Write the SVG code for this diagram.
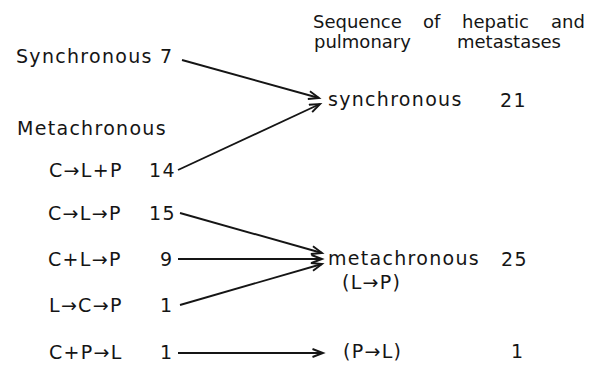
<svg xmlns="http://www.w3.org/2000/svg" width="590" height="366" viewBox="0 0 590 366">
<style>
text{font-family:"DejaVu Sans",Verdana,sans-serif;font-size:19px;fill:#151515}
.l{letter-spacing:1.3px}
.h{letter-spacing:0;font-size:18px}
.c{stroke:#151515;stroke-width:1.9;fill:none}
</style>
<defs>
<marker id="ah" markerUnits="userSpaceOnUse" markerWidth="14" markerHeight="12" refX="11" refY="5" orient="auto">
<path d="M0.5,1 L11,5 L0.5,9" fill="none" stroke="#151515" stroke-width="1.9"/>
</marker>
</defs>
<rect width="590" height="366" fill="#fff"/>
<g id="header">
<text class="h" x="313" y="28">Sequence</text>
<text class="h" x="423" y="28">of</text>
<text class="h" x="462" y="28">hepatic</text>
<text class="h" x="551" y="28">and</text>
<text class="h" x="314" y="48">pulmonary</text>
<text class="h" x="457" y="48">metastases</text>
</g>
<g id="src-synchronous"><text class="l" x="16" y="63">Synchronous 7</text></g>
<g id="label-metachronous"><text class="l" x="17" y="135">Metachronous</text></g>
<g id="src-CLplusP"><text class="l" x="49" y="177">C→L+P</text><text class="l" x="149" y="177">14</text></g>
<g id="src-CLP"><text class="l" x="48" y="220">C→L→P</text><text class="l" x="149" y="220">15</text></g>
<g id="src-CplusLP"><text class="l" x="48" y="266">C+L→P</text><text class="l" x="160" y="266">9</text></g>
<g id="src-LCP"><text class="l" x="49" y="312">L→C→P</text><text class="l" x="160" y="312">1</text></g>
<g id="src-CPL"><text class="l" x="49" y="359">C+P→L</text><text class="l" x="160" y="359">1</text></g>
<g id="tgt-synchronous"><text class="l" x="328" y="106">synchronous</text><text class="l" x="500" y="107">21</text></g>
<g id="tgt-metachronous"><text class="l" x="328" y="265">metachronous</text><text class="l" x="501" y="266">25</text><text class="l" x="342" y="289">(L→P)</text></g>
<g id="tgt-PL"><text class="l" x="343" y="358">(P→L)</text><text class="l" x="511" y="358">1</text></g>
<g id="connectors">
<line class="c" x1="182" y1="60" x2="319" y2="98" marker-end="url(#ah)"/>
<line class="c" x1="178" y1="170" x2="320" y2="104" marker-end="url(#ah)"/>
<line class="c" x1="180" y1="213" x2="322" y2="253" marker-end="url(#ah)"/>
<line class="c" x1="178" y1="259" x2="322" y2="259" marker-end="url(#ah)"/>
<line class="c" x1="180" y1="305" x2="322" y2="264" marker-end="url(#ah)"/>
<line class="c" x1="178" y1="353" x2="323" y2="353" marker-end="url(#ah)"/>
</g>
</svg>
